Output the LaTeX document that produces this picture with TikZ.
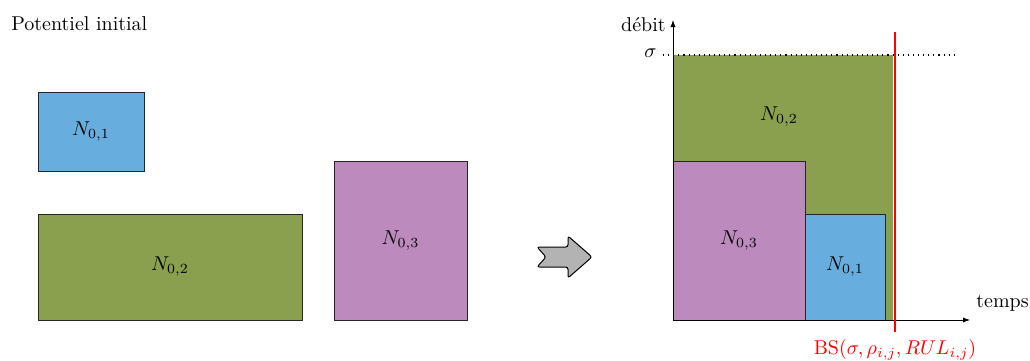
\documentclass[tikz,border=0pt]{standalone}
\usetikzlibrary{arrows.meta}
\definecolor{cblue}{HTML}{67ADDD}
\definecolor{cgreen}{HTML}{8AA04E}
\definecolor{cpurple}{HTML}{BC8ABD}
\definecolor{cgray}{HTML}{B3B3B3}
\begin{document}
\begin{tikzpicture}[x=0.5pt,y=-0.5pt,
  blk/.style 2 args={draw=black!85, line width=0.5pt, minimum width=#1*0.5pt, minimum height=#2*0.5pt, inner sep=0pt, outer sep=0pt},
  axis/.style={line width=0.45pt, -{Latex[length=3.5pt,width=2.6pt]}},
  lbl/.style={inner sep=1pt}]
\useasboundingbox (0,0) rectangle (1030,360);
% left side
\node[lbl, anchor=west] (title) at (9,24) {Potentiel initial};
\node[blk={106}{79}, fill=cblue] (a1) at (91,131.5) {$N_{0,1}$};
\node[blk={264}{106}, fill=cgreen] (a2) at (170,267) {$N_{0,2}$};
\node[blk={133}{159}, fill=cpurple] (a3) at (400.5,240.5) {$N_{0,3}$};
% transition arrow
\draw[fill=cgray, line width=0.5pt, rounded corners=1.2pt] (537,247) -- (568,247) -- (568,236) -- (592,257) -- (568,278) -- (568,267) -- (537,267) -- (546,257) -- cycle;
% right side
\coordinate (o) at (673,320);
\coordinate (ytop) at (673,20);
\coordinate (xend) at (970,320);
\node[blk={220}{265}, fill=cgreen, draw=none] (g) at (783,187.5) {};
\node at (779,117) (b2) {$N_{0,2}$};
\node[blk={132}{159}, fill=cpurple] (b3) at (739,240.5) {$N_{0,3}$};
\node[blk={80}{106}, fill=cblue] (b1) at (845,267) {$N_{0,1}$};
\draw[axis] (o) -- (ytop);
\draw[axis] (o) -- (xend);
\coordinate (dl) at (663,55);
\coordinate (dr) at (958,55);
\draw[dotted, line width=0.55pt] (dl) -- (dr);
\node[lbl, anchor=east] (sig) at (659,53) {$\sigma$};
\node[lbl, anchor=east] (deb) at (668,25) {débit};
\node[lbl, anchor=west] (tps) at (974,303) {temps};
\coordinate (rt) at (895,32);
\coordinate (rb) at (895,332);
\draw[red, line width=0.6pt] (rt) -- (rb);
\node[lbl, red] (bs) at (895,350) {BS$(\sigma,\rho_{i,j},RUL_{i,j})$};
\end{tikzpicture}
\end{document}
